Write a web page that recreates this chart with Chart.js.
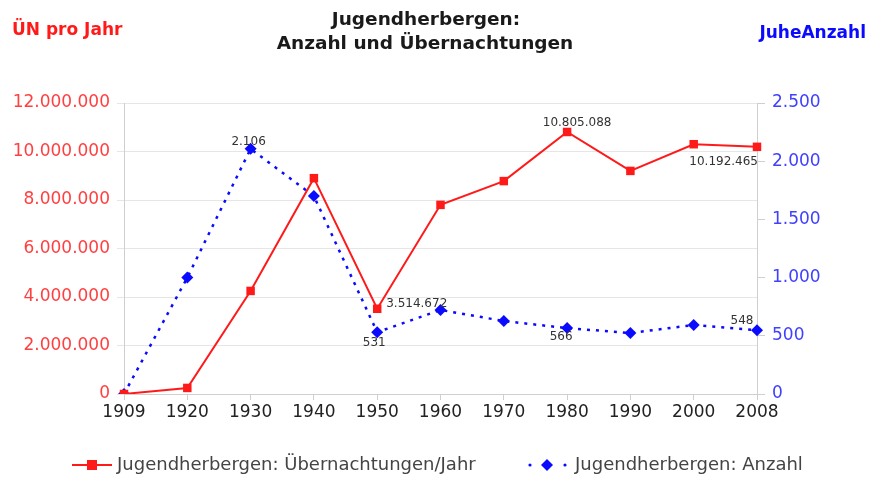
<!DOCTYPE html>
<html>
<head>
<meta charset="utf-8">
<script src="https://cdn.jsdelivr.net/npm/chart.js@4"></script>
<style>
  html, body { margin: 0; padding: 0; background: #fff; }
  #wrap { width: 870px; height: 478px; }
</style>
</head>
<body>
<div id="wrap"><canvas id="juheChart" width="870" height="478"></canvas></div>
<script>
const years = ['1909', '1920', '1930', '1940', '1950', '1960', '1970', '1980', '1990', '2000', '2008'];
const overnights = [0, 250000, 4250000, 8900000, 3514672, 7800000, 8780000, 10805088, 9200000, 10300000, 10192465];
const hostelCount = [0, 1000, 2106, 1700, 531, 722, 627, 566, 524, 593, 548];
const leftTicks = [0, 2000000, 4000000, 6000000, 8000000, 10000000, 12000000];
const rightTicks = [0, 500, 1000, 1500, 2000, 2500];

const titleLines = ['Jugendherbergen:', 'Anzahl und Übernachtungen'];
const leftAxisTitle = 'ÜN pro Jahr';
const rightAxisTitle = 'JuheAnzahl';
const seriesNames = ['Jugendherbergen: Übernachtungen/Jahr', 'Jugendherbergen: Anzahl'];

// which points get a value label: [dataset, index, dx, dy, textAlign]
const valueLabels = [
    [1, 2, -2, -7, 'center'],
    [0, 7, 10, -9, 'center'],
    [0, 10, 1, 15, 'right'],
    [0, 4, 9, -5, 'left'],
    [1, 4, -3, 11, 'center'],
    [1, 7, -6, 9, 'center'],
    [1, 10, -15, -9, 'center']
];

const RED = '#ff1a1a';
const BLUE = '#0a0aff';
const FONT = '"DejaVu Sans", Verdana, sans-serif';

function dots(n) {
    return String(Math.round(n)).replace(/\B(?=(\d{3})+(?!\d))/g, '.');
}

const textPlugin = {
    id: 'textPlugin',
    afterDraw(chart) {
        const ctx = chart.ctx;
        ctx.save();

        // title
        ctx.fillStyle = '#1a1a1a';
        ctx.font = 'bold 18.5px ' + FONT;
        ctx.textAlign = 'center';
        ctx.textBaseline = 'middle';
        ctx.fillText(titleLines[0], 426, 20);
        ctx.fillText(titleLines[1], 425, 44);

        // axis titles
        ctx.font = 'bold 17px ' + FONT;
        ctx.textAlign = 'left';
        ctx.fillStyle = RED;
        ctx.fillText(leftAxisTitle, 12, 31);
        ctx.textAlign = 'right';
        ctx.fillStyle = BLUE;
        ctx.fillText(rightAxisTitle, 866, 34);

        // value labels
        ctx.font = '12px ' + FONT;
        ctx.fillStyle = '#333';
        valueLabels.forEach(([ds, i, dx, dy, align]) => {
            const pt = chart.getDatasetMeta(ds).data[i];
            const v = chart.data.datasets[ds].data[i];
            ctx.textAlign = align;
            ctx.fillText(dots(v), pt.x + dx, pt.y + dy);
        });

        // legend
        const ly = 465;
        ctx.font = '18px ' + FONT;
        ctx.textAlign = 'left';
        ctx.strokeStyle = RED;
        ctx.lineWidth = 2;
        ctx.beginPath();
        ctx.moveTo(72, ly);
        ctx.lineTo(112, ly);
        ctx.stroke();
        ctx.fillStyle = RED;
        ctx.fillRect(87, ly - 5, 10, 10);
        ctx.fillStyle = '#444';
        ctx.fillText(seriesNames[0], 117, ly);

        ctx.fillStyle = BLUE;
        [530, 565].forEach(x => {
            ctx.beginPath();
            ctx.arc(x, ly, 1.6, 0, Math.PI * 2);
            ctx.fill();
        });
        ctx.beginPath();
        ctx.moveTo(547, ly - 6);
        ctx.lineTo(553, ly);
        ctx.lineTo(547, ly + 6);
        ctx.lineTo(541, ly);
        ctx.closePath();
        ctx.fill();
        ctx.fillStyle = '#444';
        ctx.fillText(seriesNames[1], 575, ly);

        ctx.restore();
    }
};

const ctx = document.getElementById('juheChart').getContext('2d');
new Chart(ctx, {
    type: 'line',
    data: {
        labels: years,
        datasets: [{
            label: seriesNames[0],
            data: overnights,
            yAxisID: 'yLeft',
            borderColor: RED,
            backgroundColor: RED,
            borderWidth: 2,
            pointStyle: 'rect',
            pointRadius: 6,
            pointBorderWidth: 0,
            tension: 0
        }, {
            label: seriesNames[1],
            data: hostelCount,
            yAxisID: 'yRight',
            borderColor: BLUE,
            backgroundColor: BLUE,
            borderWidth: 2.5,
            borderDash: [3, 6],
            pointStyle: 'rectRot',
            pointRadius: 6,
            pointBorderWidth: 0,
            tension: 0
        }]
    },
    options: {
        responsive: false,
        animation: false,
        devicePixelRatio: 1,
        layout: { padding: { top: 103, bottom: 44, left: 0, right: 0 } },
        plugins: {
            legend: { display: false },
            title: { display: false },
            tooltip: { enabled: false }
        },
        scales: {
            x: {
                type: 'category',
                offset: false,
                afterFit: scale => { scale.height = 40; },
                grid: { drawOnChartArea: false, drawTicks: true, tickLength: 6, color: '#cfcfcf' },
                border: { display: true, color: '#cfcfcf' },
                ticks: { color: '#222', padding: 2, maxRotation: 0, autoSkip: false, font: { family: FONT, size: 17 } }
            },
            yLeft: {
                position: 'left',
                min: 0,
                max: 12000000,
                afterFit: scale => { scale.width = 124; },
                afterBuildTicks: scale => { scale.ticks = leftTicks.map(v => ({ value: v })); },
                grid: { color: '#e6e6e6', tickLength: 7 },
                border: { display: true, color: '#cfcfcf' },
                ticks: { color: '#ff4040', padding: 7, callback: v => dots(v), font: { family: FONT, size: 17 } }
            },
            yRight: {
                position: 'right',
                min: 0,
                max: 2500,
                afterFit: scale => { scale.width = 113; },
                afterBuildTicks: scale => { scale.ticks = rightTicks.map(v => ({ value: v })); },
                grid: { drawOnChartArea: false, color: '#cfcfcf', tickLength: 8 },
                border: { display: true, color: '#cfcfcf' },
                ticks: { color: '#4040ff', padding: 7, callback: v => dots(v), font: { family: FONT, size: 17 } }
            }
        }
    },
    plugins: [textPlugin]
});
</script>
</body>
</html>
